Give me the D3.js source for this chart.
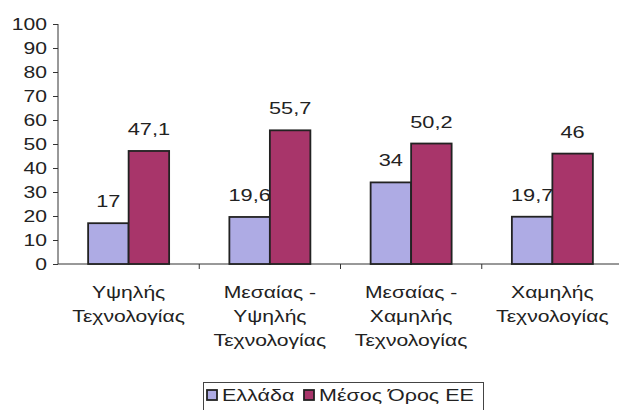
<!DOCTYPE html>
<html><head><meta charset="utf-8">
<script src="https://cdn.jsdelivr.net/npm/d3@7"></script>
<style>body{margin:0;background:#fff}svg{display:block}text{font-family:"Liberation Sans",Arial,sans-serif;fill:#222}</style>
</head><body>
<script>
const categories = [["Υψηλής","Τεχνολογίας"],["Μεσαίας -","Υψηλής","Τεχνολογίας"],["Μεσαίας -","Χαμηλής","Τεχνολογίας"],["Χαμηλής","Τεχνολογίας"]];
const seriesNames = ["Ελλάδα","Μέσος Όρος ΕΕ"];
const greece = [17, 19.6, 34, 19.7];
const eu = [47.1, 55.7, 50.2, 46];
const yTicks = [0,10,20,30,40,50,60,70,80,90,100];
const colors = ["#aeabe4","#a8356a"];

const W=619,H=410,SX=1.28;
const svg=d3.select("body").append("svg").attr("width",W).attr("height",H);
const x=d3.scaleBand().domain(d3.range(categories.length)).range([58,623]);
const xs=d3.scaleBand().domain([0,1]).range([0,81]);
const y=d3.scaleLinear().domain([0,100]).range([264,24]);
const fmt=v=>String(v).replace(".",",");
function txt(g,px,py,s,size,anchor){
  return g.append("text").attr("transform",`translate(${px},${py}) scale(${SX},1)`)
    .attr("text-anchor",anchor||"middle").style("font-size",size+"px").text(s);
}

// y axis
const ya=svg.append("g").attr("transform","translate(58,0)")
  .call(d3.axisLeft(y).tickValues(yTicks).tickSize(5).tickPadding(4));
ya.select(".domain").attr("stroke","#333").attr("d","M0,24V264");
ya.selectAll(".tick line").attr("stroke","#333");
ya.selectAll(".tick text").style("font-size","16.5px").attr("fill","#222")
  .attr("x",-11/SX).attr("transform",`scale(${SX},1)`);

// x axis
const xa=svg.append("g").attr("transform","translate(0,264)");
xa.append("line").attr("x1",58).attr("x2",619).attr("y1",0).attr("y2",0).attr("stroke","#333");
xa.selectAll("line.t").data(d3.range(1,categories.length)).join("line").attr("class","t")
  .attr("x1",d=>x(d)).attr("x2",d=>x(d)).attr("y1",0).attr("y2",5).attr("stroke","#333");

const series=[greece,eu];
series.forEach((vals,si)=>{
  svg.selectAll("rect.s"+si).data(vals).join("rect").attr("class","s"+si)
    .attr("x",(d,i)=>x(i)+x.bandwidth()/2-40.5+xs(si))
    .attr("width",xs.bandwidth())
    .attr("y",d=>y(d)).attr("height",d=>y(0)-y(d))
    .attr("fill",colors[si]).attr("stroke","#222").attr("stroke-width",1.8);
  vals.forEach((d,i)=>{
    txt(svg,x(i)+x.bandwidth()/2-40.5+xs(si)+xs.bandwidth()/2,y(d)-16,fmt(d),17);
  });
});

// category labels
categories.forEach((lines,i)=>{
  lines.forEach((s,k)=>txt(svg,x(i)+x.bandwidth()/2,298+k*24,s,16.5));
});

// legend
const lg=svg.append("g");
lg.append("rect").attr("x",203.5).attr("y",382.5).attr("width",280).attr("height",30).attr("fill","#fff").attr("stroke","#444");
const lx=[207,304];
seriesNames.forEach((n,i)=>{
  lg.append("rect").attr("x",lx[i]).attr("y",390).attr("width",10).attr("height",10).attr("fill",colors[i]).attr("stroke","#222").attr("stroke-width",1.8);
  txt(lg,lx[i]+15,401,n,16.8,"start");
});
</script>
</body></html>
